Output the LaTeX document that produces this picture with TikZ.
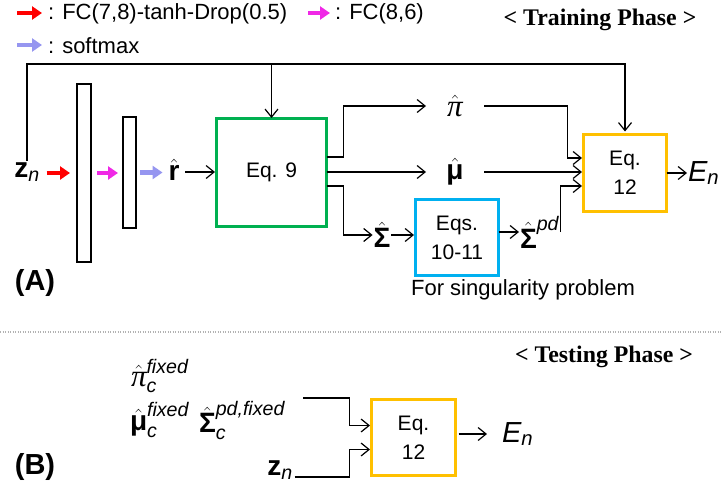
\documentclass[tikz,border=0pt]{standalone}
\usepackage{amsmath}
\usepackage{fontspec}
\setmainfont{Liberation Sans}
\newfontfamily\tnr{Liberation Serif}
\usetikzlibrary{arrows.meta,calc}
\definecolor{cgreen}{RGB}{0,176,80}
\definecolor{ccyan}{RGB}{0,176,240}
\definecolor{cyel}{RGB}{255,192,0}
\definecolor{cred}{RGB}{255,0,0}
\definecolor{cmag}{RGB}{240,40,230}
\definecolor{cpur}{RGB}{150,150,240}
\newcommand{\bsym}[1]{\text{\bfseries #1}}
\newcommand{\isym}[1]{\text{\itshape #1}}
\newcommand{\pisym}{\text{\tnr\itshape\fontsize{31}{31}\selectfont π}}
\begin{document}
\begin{tikzpicture}[x=1pt,y=-1pt,
  every node/.style={outer sep=0pt},
  lbl/.style={font=\fontsize{22}{25}\selectfont, inner sep=0pt},
  mth/.style={font=\fontsize{28}{30}\selectfont, inner sep=2pt},
  big/.style={font=\fontsize{29}{31}\selectfont, inner sep=1pt},
  conn/.style={draw, line width=1.2pt, -{Straight Barb[length=8pt,width=13pt,line width=1.2pt]}},
  fat/.style={line width=4.5pt, -{Triangle[length=10pt,width=13pt]}},
  layer/.style={draw, line width=1.2pt, inner sep=0pt},
  eqbox/.style={draw, line width=3pt, inner sep=0pt, align=center, font=\fontsize{21}{29}\selectfont},
  phase/.style={font=\tnr\bfseries\fontsize{23.8}{28}\selectfont, inner sep=0pt},
  tag/.style={font=\bfseries\fontsize{29}{32}\selectfont, inner sep=0pt}]
\useasboundingbox (0,0) rectangle (722,498);

% legend
\coordinate (r1) at (17,13); \coordinate (r2) at (42,13);
\draw[fat, cred] (r1) -- (r2);
\node[lbl, anchor=west] (t1) at (48,14) {: FC(7,8)-tanh-Drop(0.5)};
\coordinate (m1) at (308,13); \coordinate (m2) at (330,13);
\draw[fat, cmag] (m1) -- (m2);
\node[lbl, anchor=west] (t2) at (335,14) {: FC(8,6)};
\coordinate (p1) at (17,45); \coordinate (p2) at (42,45);
\draw[fat, cpur] (p1) -- (p2);
\node[lbl, anchor=west] (t3) at (48,46) {: softmax};
\node[phase] (tp) at (600,20) {< Training Phase >};

% (A) network
\node[mth] (zn) at (27,172) {$\bsym{z}_{\isym{n}}$};
\node[layer, minimum width=14, minimum height=178] (l1) at (84,173) {};
\node[layer, minimum width=13, minimum height=111] (l2) at (129.5,172.5) {};
\node[mth] (rh) at (174,170) {$\hat{\bsym{r}}$};
\node[eqbox, draw=cgreen, minimum width=110, minimum height=108] (g) at (271.5,172) {Eq. 9};

\draw[fat, cred, shorten <=5pt, shorten >=7pt] (zn.east |- l1) -- (l1.west);
\draw[fat, cmag, shorten <=6pt, shorten >=5pt] (l1.east) -- (l1.east -| l2.west);
\draw[fat, cpur, shorten <=4pt, shorten >=4pt] (l2.east) -- (l2.east -| rh.west);
\draw[conn, shorten <=4pt, shorten >=1.5pt] (rh.east |- g.west) -- (g.west);

\coordinate (topy) at (0,64);
\draw[conn] (zn.north) -- (zn.north |- topy) -| (625,131.5);
\draw[conn] (g.north |- topy) -- (g.north);

\node[mth, minimum width=58] (pi) at (455,106) {$\hat{\pisym}$};
\node[mth, minimum width=58] (mu) at (455,172) {$\hat{\bsym{μ}}$};
\node[mth, inner sep=1pt] (sg) at (382,235) {$\hat{\bsym{Σ}}$};
\node[eqbox, draw=ccyan, minimum width=83, minimum height=76] (cy) at (457,237.5) {Eqs.\\10-11};
\node[mth, anchor=west, inner sep=1pt] (sp) at (519,232) {$\hat{\bsym{Σ}}^{\isym{pd}}$};
\node[eqbox, draw=cyel, minimum width=83, minimum height=77] (y) at (625,173) {Eq.\\12};
\node[big, anchor=west] (en) at (687,173) {$\isym{E}_{\isym{n}}$};

\draw[conn] ($(g.east)+(0,-15)$) -- ++(17,0) |- (pi.west);
\draw[conn] (g.east) -- (g.east -| mu.west);
\draw[conn] ($(g.east)+(0,14)$) -- ++(17,0) |- (sg.west);
\draw[conn, shorten >=1.5pt] (sg.east) -- (sg.east -| cy.west);
\draw[conn] (cy.east |- sp.west) -- (sp.west);
\draw[conn, shorten >=1.5pt] (sp.east) |- ($(y.west)+(0,13)$);
\draw[conn, shorten >=1.5pt] (pi.east) -| ($(y.west)+(-16,-15)$) -- ($(y.west)+(0,-15)$);
\draw[conn, shorten >=1.5pt] (mu.east) -- (mu.east -| y.west);
\draw[conn] (y.east) -- (y.east -| en.west);

\node[lbl] (fs) at (523,290) {For singularity problem};
\node[tag] (A) at (35,283) {(A)};

% separator
\coordinate (s1) at (0,332); \coordinate (s2) at (722,332);
\draw[gray!60, line width=1.2pt, dash pattern=on 1.2pt off 1.3pt] (s1) -- (s2);

% (B)
\node[phase] (tsp) at (604,357) {< Testing Phase >};
\node[mth, anchor=west] (pf) at (129,376) {$\hat{\pisym}_{\isym{c}}^{\isym{fixed}}$};
\node[mth, anchor=west] (mf) at (128,420) {$\hat{\bsym{μ}}_{\isym{c}}^{\isym{fixed}}$};
\node[mth, anchor=west] (sf) at (197,420) {$\hat{\bsym{Σ}}_{\isym{c}}^{\isym{pd,fixed}}$};
\coordinate (in1) at (303,398);
\node[eqbox, draw=cyel, minimum width=84, minimum height=76] (yb) at (413.5,437.5) {Eq.\\12};
\node[mth] (zb) at (280,470) {$\bsym{z}_{\isym{n}}$};
\node[big, anchor=west] (eb) at (501,434) {$\isym{E}_{\isym{n}}$};
\draw[conn, shorten >=1.5pt] (in1) -| ($(yb.west)+(-22,-12)$) -- ($(yb.west)+(0,-12)$);
\draw[conn, shorten >=1.5pt] ([yshift=-7pt]zb.east) -| ($(yb.west)+(-22,12)$) -- ($(yb.west)+(0,12)$);
\draw[conn, shorten <=3pt, shorten >=14pt] (yb.east |- eb.west) -- (eb.west);
\node[tag] (B) at (35,467) {(B)};
\end{tikzpicture}
\end{document}
